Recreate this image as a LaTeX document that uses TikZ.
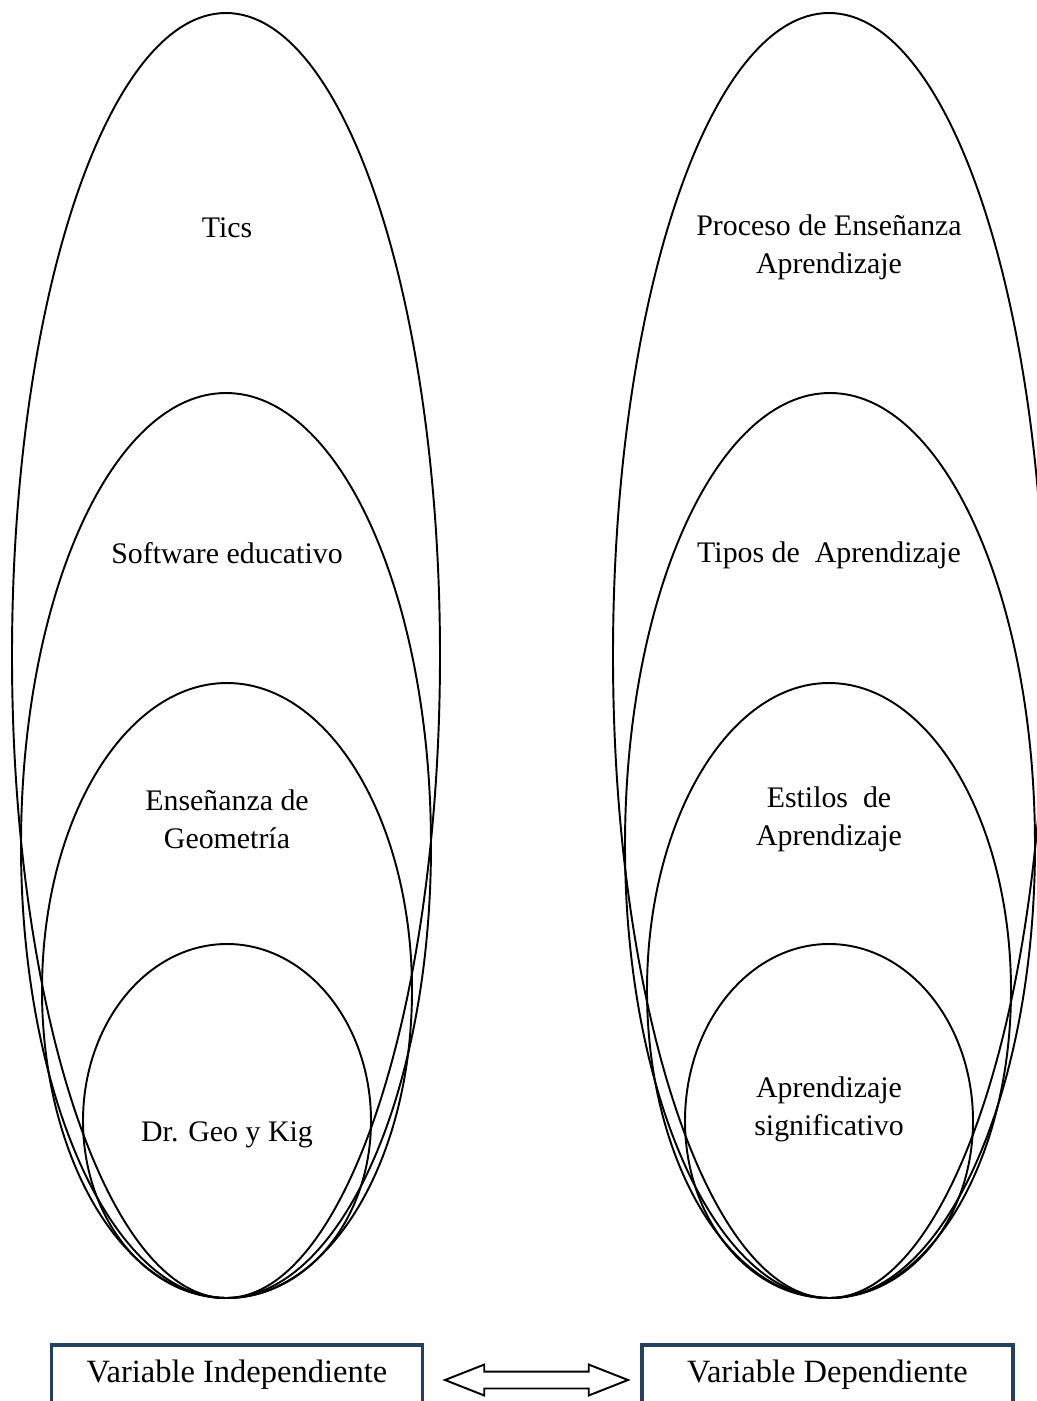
\documentclass[tikz,border=0pt]{standalone}
\usepackage{fontspec}
\setmainfont{Liberation Serif}
\usepackage{tikz}
\usetikzlibrary{positioning, shapes.arrows}
\definecolor{varblue}{RGB}{36,63,96}

\begin{document}
\begin{tikzpicture}[
    x=0.02cm, y=-0.02cm,
    oval/.style={draw, line width=1.1pt},
    lbl/.style={align=center, inner sep=0pt, font=\fontsize{17}{21.6}\selectfont},
    varbox/.style={draw=varblue, line width=2.2pt, minimum width=7.42cm,
                   minimum height=1.18cm, font=\fontsize{18.5}{22}\selectfont},
    link/.style={double arrow, draw, line width=1.1pt, inner xsep=0pt,
                 inner ysep=0.15cm, minimum height=3.66cm, minimum width=0.58cm,
                 double arrow head extend=0.14cm, double arrow tip angle=43}
  ]
  \useasboundingbox (0,0) rectangle (1037,1401);
  \clip (0,0) rectangle (1037,1401);

  \draw[oval] (226,655.5) ellipse [x radius=214, y radius=642.5];
  \draw[oval] (226,845.5) ellipse [x radius=205, y radius=452.5];
  \draw[oval] (227,990.5) ellipse [x radius=185, y radius=307.5];
  \draw[oval] (227,1121) ellipse [x radius=144, y radius=177];

  \draw[oval] (829,655.5) ellipse [x radius=216, y radius=642.5];
  \draw[oval] (830,845.5) ellipse [x radius=205, y radius=452.5];
  \draw[oval] (829,990.5) ellipse [x radius=182, y radius=307.5];
  \draw[oval] (829,1121) ellipse [x radius=144, y radius=177];

  \node[lbl] (tics) at (227,228) {Tics};
  \node[lbl] (soft) at (227,553) {Software educativo};
  \node[lbl] (geom) at (227,819) {Enseñanza de\\Geometría};
  \node[lbl] (drgeo) at (227,1135) {Dr. Geo y Kig};

  \node[lbl] (proc) at (829,247) {Proceso de Enseñanza\\Aprendizaje};
  \node[lbl] (tipos) at (829,555) {Tipos de~ Aprendizaje};
  \node[lbl] (estilos) at (829,819) {Estilos~ de\\Aprendizaje};
  \node[lbl] (signif) at (829,1109) {Aprendizaje\\significativo};

  \node[varbox] (indep) at (237,1374.5) {Variable Independiente};
  \node[varbox] (dep) at (827.5,1374.5) {Variable Dependiente};
  \node[link] (rel) at (536.5,1380) {};
\end{tikzpicture}
\end{document}
